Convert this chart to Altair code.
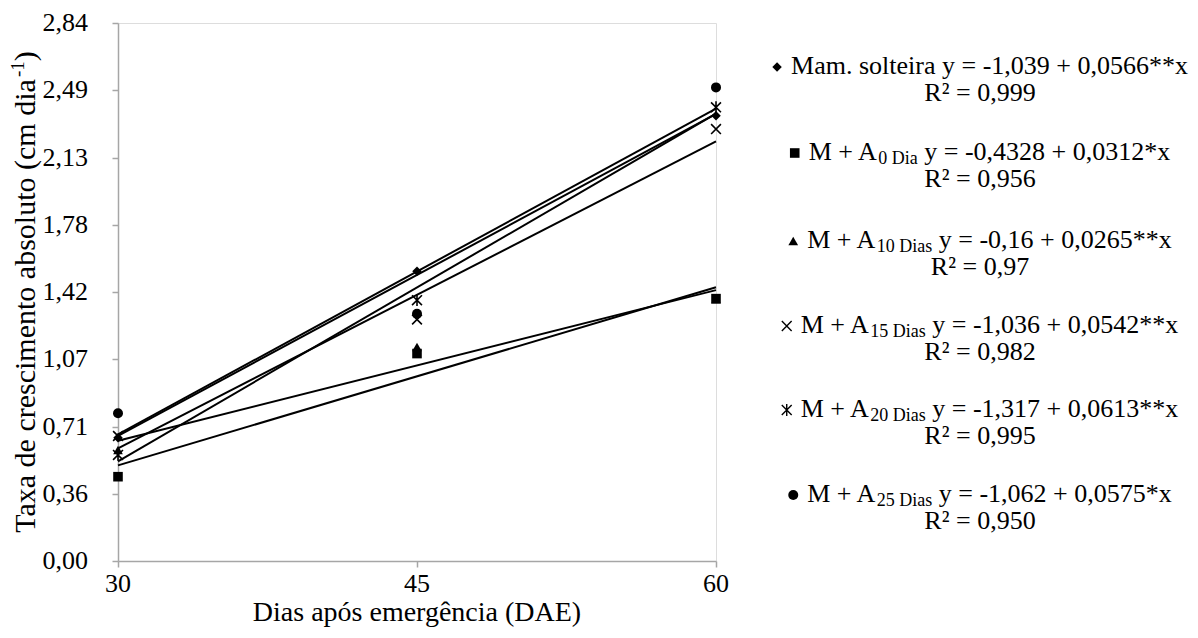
import altair as alt
import pandas as pd

# ---------------- data ----------------
days = [30, 45, 60]
series = ["Mam. solteira", "M + A0 Dia", "M + A10 Dias", "M + A15 Dias", "M + A20 Dias", "M + A25 Dias"]
mam = [0.65, 1.53, 2.35]
a0 = [0.445, 1.095, 1.385]
a10 = [0.586, 1.13, 1.381]
a15 = [0.66, 1.275, 2.28]
a20 = [0.56, 1.377, 2.395]
a25 = [0.78, 1.305, 2.50]
values = [mam, a0, a10, a15, a20, a25]

y_tick_values = [0, 0.355, 0.71, 1.065, 1.42, 1.775, 2.13, 2.485, 2.84]
y_tick_labels = ["0,00", "0,36", "0,71", "1,07", "1,42", "1,78", "2,13", "2,49", "2,84"]
x_ticks = [30, 45, 60]
x_tick_labels = ["30", "45", "60"]
x_title = "Dias após emergência (DAE)"

leg_main = ["Mam. solteira", "M + A", "M + A", "M + A", "M + A", "M + A"]
leg_sub = ["", "0 Dia", "10 Dias", "15 Dias", "20 Dias", "25 Dias"]
leg_eq = ["y = -1,039 + 0,0566**x", "y = -0,4328 + 0,0312*x", "y = -0,16 + 0,0265**x",
          "y = -1,036 + 0,0542**x", "y = -1,317 + 0,0613**x", "y = -1,062 + 0,0575*x"]
leg_r2 = ["R² = 0,999", "R² = 0,956", "R² = 0,97", "R² = 0,982", "R² = 0,995", "R² = 0,950"]

rows = []
for s, vals in zip(series, values):
    for d, v in zip(days, vals):
        rows.append({"series": s, "day": d, "value": v})
df = pd.DataFrame(rows)
ytick_df = pd.DataFrame({"value": y_tick_values, "label": y_tick_labels})
xtick_df = pd.DataFrame({"day": x_ticks, "label": x_tick_labels})

# ---------------- style / layout ----------------
FONT = "Times New Roman, Liberation Serif, Times, DejaVu Serif, serif"
FS = 26      # tick labels
FT = 28      # x title
FY = 30      # y title
LFS = 26     # legend text
FSUB = 18
PW, PH = 598, 538
XPATH = "M -1 -1 L 1 1 M -1 1 L 1 -1"
STARPATH = "M -1 -1 L 1 1 M -1 1 L 1 -1 M 0 -1.2 L 0 1.2"
shapes = ["diamond", "square", "triangle-up", XPATH, STARPATH, "circle"]
sizes = [90, 100, 90, 150, 150, 100]

W = {' ': 250, '*': 500, '+': 564, ',': 250, '-': 333, '.': 250, '=': 564, 'A': 722, 'D': 722,
     'M': 889, 'R': 667, 'T': 611, 'E': 611, 'a': 444, 'b': 500, 'c': 444, 'd': 500, 'e': 444,
     'g': 500, 'i': 278, 'l': 278, 'm': 778, 'n': 500, 'o': 500, 'p': 500, 'r': 333, 's': 389,
     't': 278, 'u': 500, 'x': 500, 'y': 500, '²': 300, '(': 333, ')': 333, 'ó': 500, 'ê': 444}


def tw(s, size):
    return sum(W.get(c, 500) for c in s) * size / 1000.0


# legend layout (plot coordinates; plot origin at page x=118, y=23)
LEG_CX = 862
LEG_Y = [43, 129, 217, 302, 386, 471]
R2_DY = 26.5
SYM_W = 19
texts = []
syms = []
for i in range(6):
    w_main = tw(leg_main[i], LFS)
    w_sub = tw(leg_sub[i], FSUB)
    w_sp = tw(" ", LFS)
    w_eq = tw(leg_eq[i], LFS)
    total = SYM_W + w_main + w_sub + w_sp + w_eq
    left = LEG_CX - total / 2
    y = LEG_Y[i]
    syms.append({"series": series[i], "px": left + 5, "py": y + 1})
    x = left + SYM_W
    texts.append({"t": leg_main[i], "px": x, "py": y, "fs": LFS})
    x += w_main
    if leg_sub[i]:
        texts.append({"t": leg_sub[i], "px": x, "py": y + 7, "fs": FSUB})
    x += w_sub + w_sp
    texts.append({"t": leg_eq[i], "px": x, "py": y, "fs": LFS})
    w_r2 = tw(leg_r2[i], LFS)
    texts.append({"t": leg_r2[i], "px": LEG_CX - w_r2 / 2, "py": y + R2_DY, "fs": LFS})

# y-axis title pieces (rotated)
yt_main = "Taxa de crescimento absoluto (cm dia"
yt_sup = "-1"
yt_end = ")"
FYS = 19
w1, w2, w3 = tw(yt_main, FY), tw(yt_sup, FYS), tw(yt_end, FY)
L = w1 + w2 + w3
YC = PH / 2
TX = -92
ytitle = [
    {"t": yt_main, "px": TX, "py": YC + L / 2, "fs": FY},
    {"t": yt_sup, "px": TX - 8, "py": YC + L / 2 - w1, "fs": FYS},
    {"t": yt_end, "px": TX, "py": YC + L / 2 - w1 - w2, "fs": FY},
]

texts_df = pd.DataFrame(texts)
syms_df = pd.DataFrame(syms)
ytitle_df = pd.DataFrame(ytitle)

# ---------------- chart ----------------
x_enc = alt.X("day:Q", scale=alt.Scale(domain=[30, 60], nice=False, zero=False),
              axis=alt.Axis(values=x_ticks, title="", grid=False, labels=False,
                            tickColor="#a6a6a6", domainColor="#a6a6a6", tickSize=6,
                            tickWidth=1.5, domainWidth=1.5))
y_enc = alt.Y("value:Q", scale=alt.Scale(domain=[0, 2.84], nice=False, zero=False),
              axis=alt.Axis(values=y_tick_values, title="", grid=False, labels=False,
                            tickColor="#a6a6a6", domainColor="#a6a6a6", tickSize=6,
                            tickWidth=1.5, domainWidth=1.5))

shape_enc = alt.Shape("series:N", scale=alt.Scale(domain=series, range=shapes), legend=None)
size_enc = alt.Size("series:N", scale=alt.Scale(domain=series, range=sizes), legend=None)

base = alt.Chart(df)

lines = base.transform_regression("day", "value", groupby=["series"], extent=[30, 60]).mark_line(
    color="black", strokeWidth=2).encode(x=x_enc, y=y_enc, detail="series:N")

filled_pts = base.transform_filter(
    alt.FieldOneOfPredicate(field="series", oneOf=[series[0], series[1], series[2], series[5]])
).mark_point(filled=True, color="black", opacity=1).encode(
    x=x_enc, y=y_enc, shape=shape_enc, size=size_enc)

stroke_pts = base.transform_filter(
    alt.FieldOneOfPredicate(field="series", oneOf=[series[3], series[4]])
).mark_point(filled=False, color="black", opacity=1, strokeWidth=1.6).encode(
    x=x_enc, y=y_enc, shape=shape_enc, size=size_enc)

# tick labels drawn as text through the same scales
ylabels = alt.Chart(ytick_df).mark_text(font=FONT, fontSize=FS, align="right", baseline="middle",
                                        color="black").encode(
    y=y_enc, x=alt.value(-30), text="label:N")
xlabels = alt.Chart(xtick_df).mark_text(font=FONT, fontSize=FS, align="center", baseline="middle",
                                        color="black").encode(
    x=x_enc, y=alt.value(PH + 23), text="label:N")
xtitle = alt.Chart(pd.DataFrame({"t": [x_title]})).mark_text(
    font=FONT, fontSize=FT, align="center", baseline="middle", color="black").encode(
    x=alt.value(PW / 2), y=alt.value(PH + 52), text="t:N")

leg_filled = alt.Chart(syms_df).transform_filter(
    alt.FieldOneOfPredicate(field="series", oneOf=[series[0], series[1], series[2], series[5]])
).mark_point(filled=True, color="black", opacity=1).encode(
    x=alt.X("px:Q", scale=None), y=alt.Y("py:Q", scale=None), shape=shape_enc, size=size_enc)

leg_stroke = alt.Chart(syms_df).transform_filter(
    alt.FieldOneOfPredicate(field="series", oneOf=[series[3], series[4]])
).mark_point(filled=False, color="black", opacity=1, strokeWidth=1.4).encode(
    x=alt.X("px:Q", scale=None), y=alt.Y("py:Q", scale=None), shape=shape_enc, size=size_enc)

leg_text = alt.Chart(texts_df).mark_text(font=FONT, align="left", baseline="middle", color="black").encode(
    x=alt.X("px:Q", scale=None), y=alt.Y("py:Q", scale=None), text="t:N",
    size=alt.Size("fs:Q", scale=None, legend=None))

ytitle_text = alt.Chart(ytitle_df).mark_text(font=FONT, align="left", baseline="middle", color="black",
                                               angle=270).encode(
    x=alt.X("px:Q", scale=None), y=alt.Y("py:Q", scale=None), text="t:N",
    size=alt.Size("fs:Q", scale=None, legend=None))

chart = alt.layer(lines, filled_pts, stroke_pts, ylabels, xlabels, xtitle,
                  leg_filled, leg_stroke, leg_text, ytitle_text).properties(
    width=PW, height=PH,
    autosize=alt.AutoSizeParams(type="none"),
    padding={"left": 110, "top": 15, "right": 474, "bottom": 69},
).configure_view(stroke=None).configure(background="white")

chart.save("out.html", embed_options={"renderer": "svg", "actions": False})
